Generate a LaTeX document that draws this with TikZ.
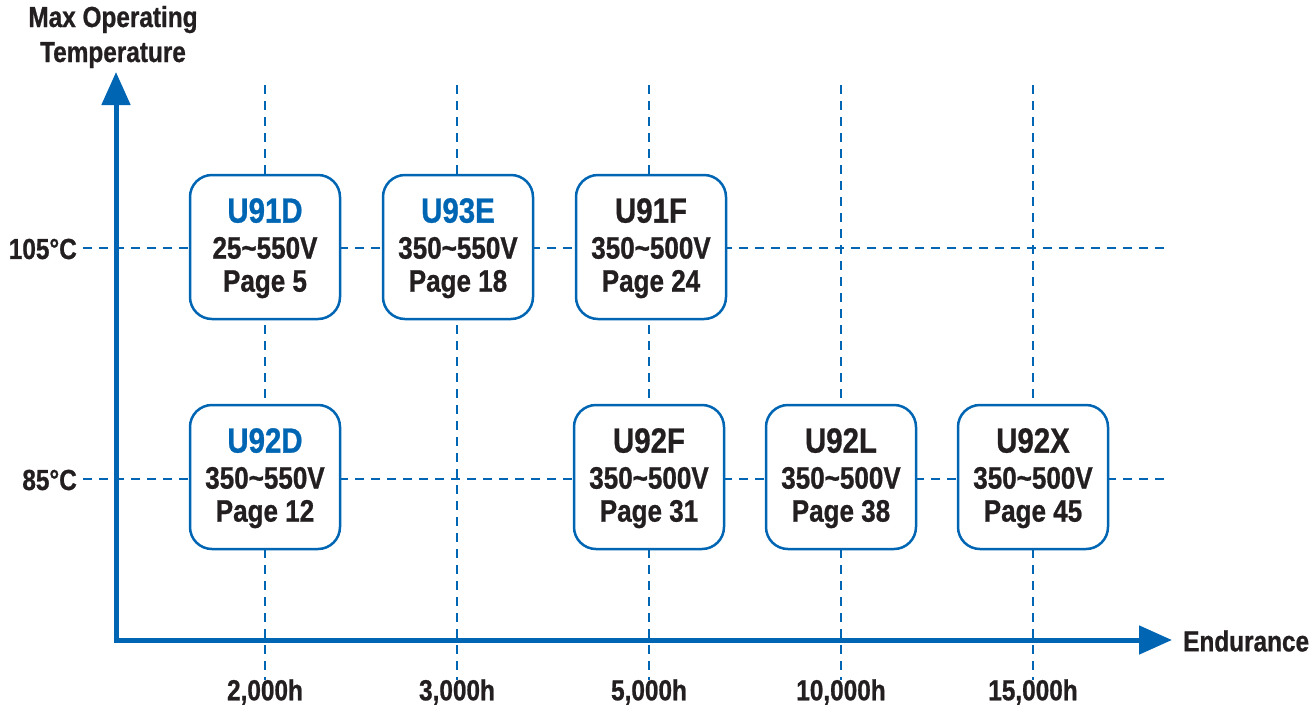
\documentclass[tikz,border=0pt]{standalone}
\usepackage{fontspec}
\setmainfont[FakeStretch=0.84,BoldFont={Liberation Sans Bold},BoldFeatures={FakeBold=0.8}]{Liberation Sans}
\usetikzlibrary{arrows.meta}
\definecolor{cblue}{RGB}{0,102,179}
\definecolor{ctext}{RGB}{35,31,32}
\tikzset{
  grid/.style={cblue,line width=1.8pt,dash pattern=on 9pt off 7pt},
  axis/.style={cblue,line width=5pt,-{Triangle[length=33pt,width=28pt]}},
  card/.style={draw=cblue,line width=2.5pt,fill=white,rounded corners=22pt,minimum width=150pt,minimum height=144pt,inner sep=0pt,text=ctext,font=\bfseries\fontsize{31}{34}\selectfont},
  lbl/.style={text=ctext,font=\bfseries\fontsize{29}{32}\selectfont,inner sep=0pt},
}
\newcommand{\cardtxt}[4]{\raisebox{-3pt}[\height][\depth]{\begin{tabular}{@{}c@{}}\textcolor{#1}{\fontsize{35}{40}\selectfont #2}\\[2pt]#3\\[-1pt]#4\end{tabular}}}
\begin{document}
\begin{tikzpicture}[x=1pt,y=-1pt]
\useasboundingbox (0,0) rectangle (1315,713);
% grid
\foreach \x/\n in {265/a,457/b,649/c,841/d,1033/e}{
  \coordinate (vt\n) at (\x,85);
  \coordinate (vb\n) at (\x,680);
  \draw[grid] (vt\n) -- (vb\n);
}
\coordinate (h1l) at (83,248); \coordinate (h1r) at (1168,248);
\coordinate (h2l) at (83,479); \coordinate (h2r) at (1168,479);
\draw[grid] (h1l) -- (h1r);
\draw[grid] (h2l) -- (h2r);
% axes
\coordinate (origin) at (116,640);
\coordinate (ytip) at (116,72);
\coordinate (xtip) at (1172,640);
\draw[axis,line cap=rect] (origin) -- (ytip);
\draw[axis] ([xshift=-2.5pt]origin) -- (xtip);
% labels
\node[lbl,align=center] (ylab) at (113,37) {Max Operating\\[3pt]Temperature};
\node[lbl,anchor=west] (xlab) at (1183,641) {Endurance};
\node[lbl,anchor=east] (t105) at (77,249) {105\textdegree C};
\node[lbl,anchor=east] (t85) at (77,480) {85\textdegree C};
\node[lbl] (e2) at (265,692) {2,000h};
\node[lbl] (e3) at (457,692) {3,000h};
\node[lbl] (e5) at (649,692) {5,000h};
\node[lbl] (e10) at (841,692) {10,000h};
\node[lbl] (e15) at (1033,692) {15,000h};
% cards
\node[card] (u91d) at (265,247) {\cardtxt{cblue}{U91D}{25\textasciitilde 550V}{Page 5}};
\node[card] (u93e) at (458,247) {\cardtxt{cblue}{U93E}{350\textasciitilde 550V}{Page 18}};
\node[card] (u91f) at (651,247) {\cardtxt{ctext}{U91F}{350\textasciitilde 500V}{Page 24}};
\node[card] (u92d) at (265,477) {\cardtxt{cblue}{U92D}{350\textasciitilde 550V}{Page 12}};
\node[card] (u92f) at (649,477) {\cardtxt{ctext}{U92F}{350\textasciitilde 500V}{Page 31}};
\node[card] (u92l) at (841,477) {\cardtxt{ctext}{U92L}{350\textasciitilde 500V}{Page 38}};
\node[card] (u92x) at (1033,477) {\cardtxt{ctext}{U92X}{350\textasciitilde 500V}{Page 45}};
\end{tikzpicture}
\end{document}
